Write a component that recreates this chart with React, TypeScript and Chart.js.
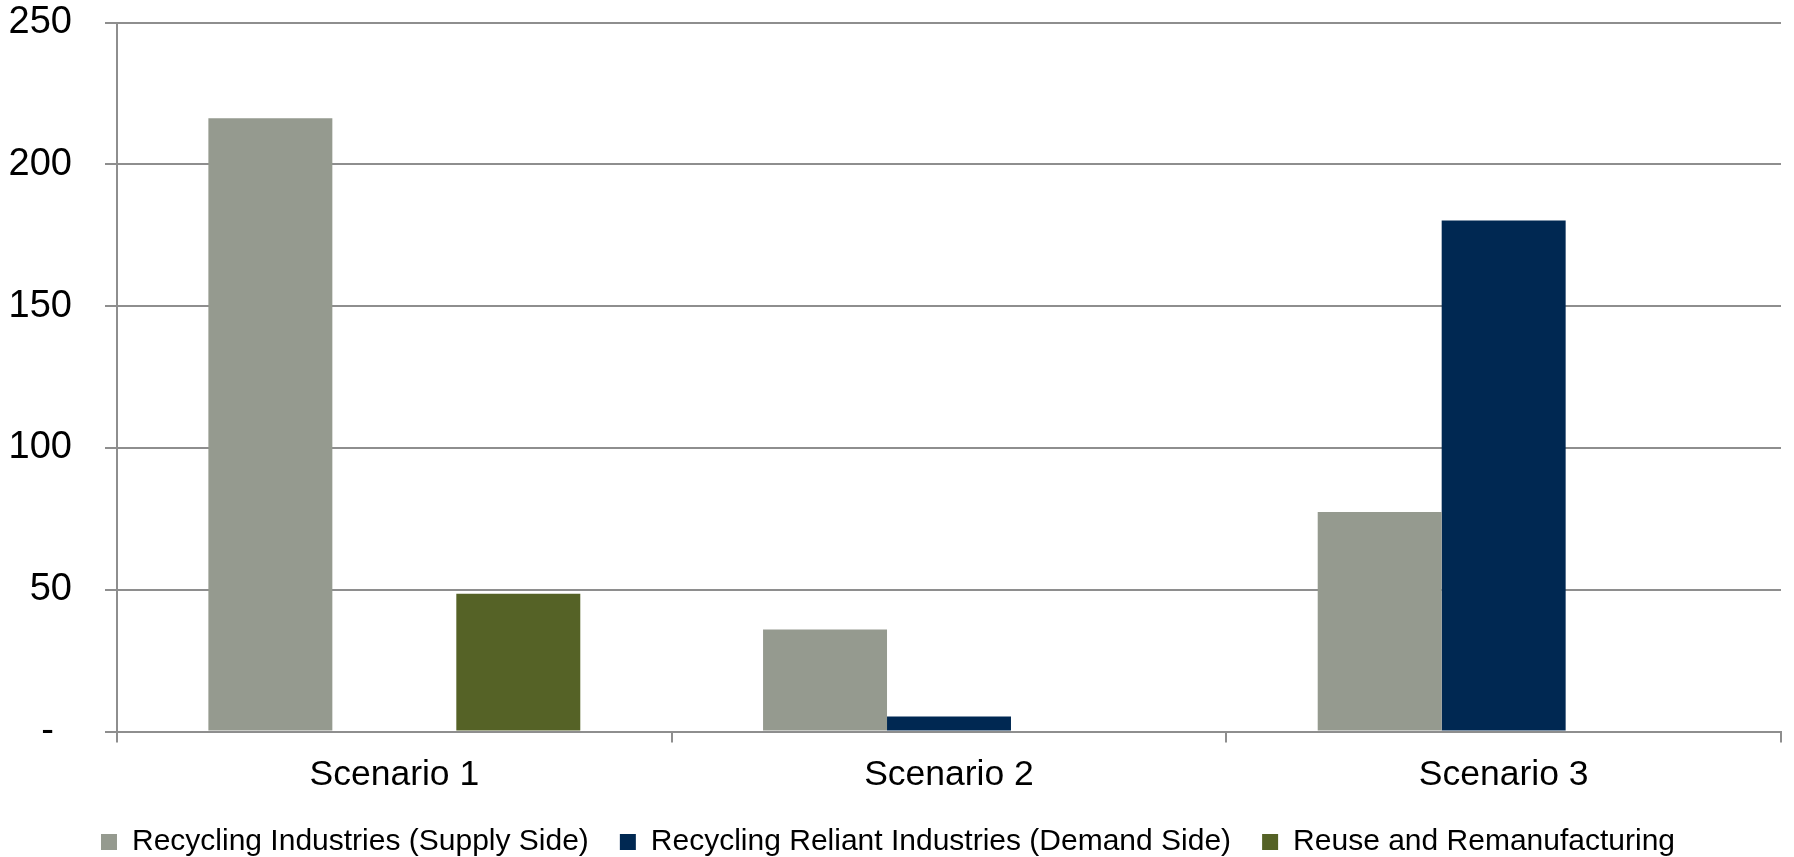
import React, { useEffect, useRef } from "react";
import { Chart, registerables } from "chart.js";

Chart.register(...registerables);

const categories = ["Scenario 1", "Scenario 2", "Scenario 3"];
const supplySide = [216.2, 36, 77.4];
const demandSide = [0, 5.3, 180.2];
const reuseRemanufacturing = [48.6, 0, 0];
const seriesNames = [
  "Recycling Industries (Supply Side)",
  "Recycling Reliant Industries (Demand Side)",
  "Reuse and Remanufacturing",
];
const seriesColors = ["#959a8f", "#002852", "#556226"];
const yTicks = [0, 50, 100, 150, 200, 250];

const FONT = "'Liberation Sans', Arial, sans-serif";
const GRID = "#8e8e8e";

// Keeps the legend row close to the bottom edge and nudges it slightly left
const legendFix = {
  id: "legendFix",
  beforeLayout(chart: any) {
    const l = chart.legend;
    if (l && !l.__patched) {
      const orig = l.fit.bind(l);
      l.fit = function () {
        orig();
        l.height = 61;
      };
      l.__patched = true;
    }
  },
  afterLayout(chart: any) {
    const l = chart.legend;
    if (l) {
      l.left -= 2.5;
      l.right -= 2.5;
    }
  },
};

export default function App() {
  const ref = useRef<HTMLCanvasElement | null>(null);

  useEffect(() => {
    if (!ref.current) return;
    const chart = new Chart(ref.current, {
      type: "bar",
      data: {
        labels: categories,
        datasets: [
          { label: seriesNames[0], data: supplySide, backgroundColor: seriesColors[0] },
          { label: seriesNames[1], data: demandSide, backgroundColor: seriesColors[1] },
          { label: seriesNames[2], data: reuseRemanufacturing, backgroundColor: seriesColors[2] },
        ],
      },
      options: {
        animation: false,
        responsive: true,
        maintainAspectRatio: false,
        layout: { padding: { top: 22.5, bottom: 0, left: 0, right: 13 } },
        datasets: { bar: { categoryPercentage: 0.6705, barPercentage: 1 } },
        plugins: {
          tooltip: { enabled: false },
          legend: {
            position: "bottom",
            labels: {
              boxWidth: 16,
              boxHeight: 16,
              padding: 31,
              color: "#000",
              font: { family: FONT, size: 30 },
            },
          },
        },
        scales: {
          x: {
            afterFit(scale: any) {
              scale.paddingLeft = 0;
              scale.paddingRight = 0;
              scale.height = 64.5;
            },
            grid: {
              offset: true,
              drawOnChartArea: false,
              drawTicks: true,
              tickLength: 11,
              color: GRID,
              lineWidth: 2,
            },
            border: { display: true, color: GRID, width: 2 },
            ticks: {
              color: "#000",
              padding: 11.9,
              font: { family: FONT, size: 35.5 },
            },
          },
          y: {
            min: yTicks[0],
            max: yTicks[yTicks.length - 1],
            afterFit(scale: any) {
              scale.width = 117;
              scale.paddingTop = 0;
              scale.paddingBottom = 0;
            },
            afterBuildTicks(scale: any) {
              scale.ticks = yTicks.map((v) => ({ value: v }));
            },
            grid: {
              color: GRID,
              lineWidth: 2,
              tickLength: 12,
              drawTicks: true,
            },
            border: { display: true, color: GRID, width: 2 },
            ticks: {
              color: "#000",
              padding: 33,
              font: { family: FONT, size: 38 },
              callback: (v: any) => (Number(v) === 0 ? "- \u2009" : String(v)),
            },
          },
        },
      },
      plugins: [legendFix],
    });
    return () => chart.destroy();
  }, []);

  return (
    <div style={{ position: "absolute", left: 0, top: 0, width: 1794, height: 857 }}>
      <canvas ref={ref} />
    </div>
  );
}
